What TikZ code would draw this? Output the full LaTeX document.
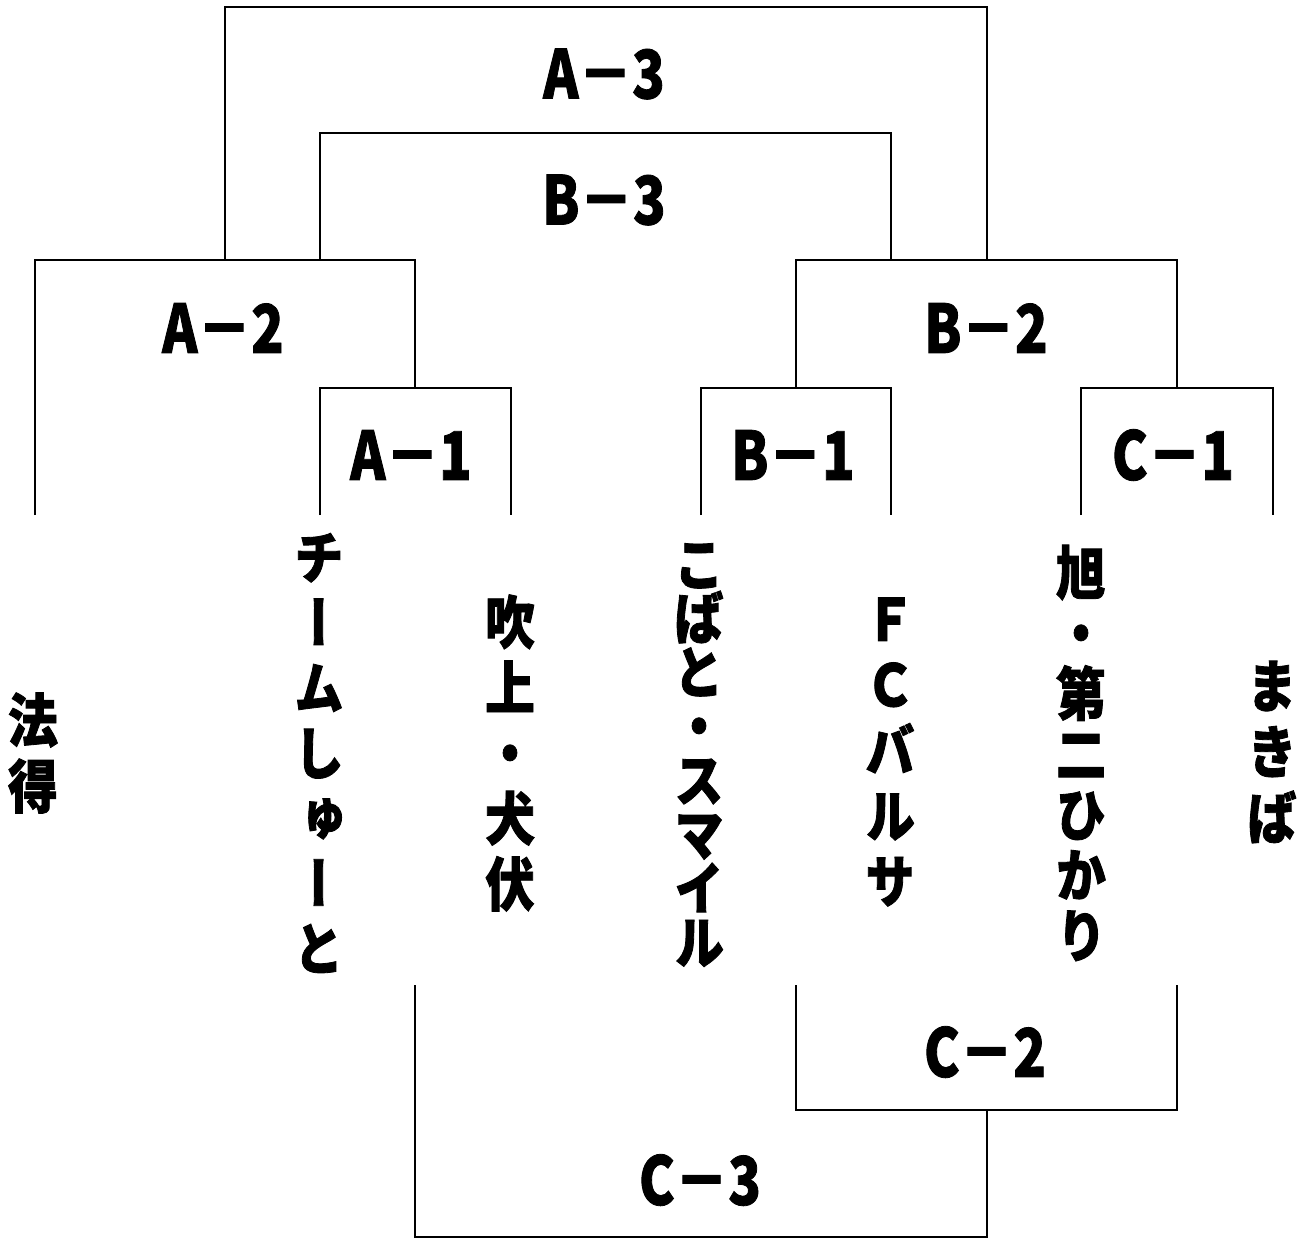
\documentclass[tikz,border=0pt]{standalone}
\usepackage{fontspec}
\usepackage{tikz}
\newfontfamily\jpfont{Noto Sans CJK JP}[FakeStretch=0.8,FakeBold=1.2]
\newfontfamily\jpvfont{Noto Sans CJK JP}[FakeStretch=0.86,FakeBold=1.4,RawFeature=+vert]

\begin{document}
\begin{tikzpicture}[x=1pt,y=-1pt]
		\tikzset{team/.style={align=center, inner sep=0pt, font={\jpvfont\bfseries\fontsize{58}{#1}\selectfont}}}
		\tikzset{match/.style={inner sep=0pt, font={\jpfont\bfseries\fontsize{67}{80}\selectfont}}}
		\tikzset{bracket/.style={line width=2.6pt}}
		\useasboundingbox (0,0) rectangle (1305,1239);
		%teams
		\node[team=66] (t1) at (33,753) {法\\得};
		\node[team=65.2] (t2) at (319,753) {チ\\ー\\ム\\し\\ゅ\\ー\\と};
		\node[team=65.5] (t3) at (510,753) {吹\\上\\・\\犬\\伏};
		\node[team=54] (t4) at (699,755) {こ\\ば\\と\\・\\ス\\マ\\イ\\ル};
		\node[team=65.5] (t5) at (890,752) {Ｆ\\Ｃ\\バ\\ル\\サ};
		\node[team=60.5] (t6) at (1081,753) {旭\\・\\第\\二\\ひ\\か\\り};
		\node[team=66] (t7) at (1272,752) {ま\\き\\ば};
		%matches
		\node[match] (a1) at (411,455) {A－1};
		\node[match] (b1) at (793,455) {B－1};
		\node[match] (c1) at (1173,455) {C－1};
		\node[match] (a2) at (223,328) {A－2};
		\node[match] (b2) at (986,328) {B－2};
		\node[match] (a3) at (604,74) {A－3};
		\node[match] (b3) at (604,200) {B－3};
		\node[match] (c2) at (985,1052) {C－2};
		\node[match] (c3) at (700,1180) {C－3};
		%leaf ends
		\coordinate (p1) at (35,515);
		\coordinate (p2) at (320,515);
		\coordinate (p3) at (511,515);
		\coordinate (p4) at (701,515);
		\coordinate (p5) at (891,515);
		\coordinate (p6) at (1081,515);
		\coordinate (p7) at (1273,515);
		\coordinate (r1) at (415,985);
		\coordinate (r2) at (796,985);
		\coordinate (r3) at (1177,985);
		%junctions
		\coordinate (ja1) at (415,388);
		\coordinate (jb1) at (796,388);
		\coordinate (jc1) at (1177,388);
		\coordinate (ja2) at (225,260);
		\coordinate (ja2b) at (320,260);
		\coordinate (jb2) at (891,260);
		\coordinate (jb2b) at (987,260);
		\coordinate (ja3) at (604,7);
		\coordinate (jb3) at (604,133);
		\coordinate (jc2) at (987,1110);
		\coordinate (jc3) at (700,1237);
		%brackets
		\draw[bracket] (p2) |- (ja1) -| (p3);
		\draw[bracket] (p4) |- (jb1) -| (p5);
		\draw[bracket] (p6) |- (jc1) -| (p7);
		\draw[bracket] (p1) |- (ja2) -| (ja1);
		\draw[bracket] (jb1) |- (jb2) -| (jc1);
		\draw[bracket] (ja2b) |- (jb3) -| (jb2);
		\draw[bracket] (ja2) |- (ja3) -| (jb2b);
		\draw[bracket] (r2) |- (jc2) -| (r3);
		\draw[bracket] (r1) |- (jc3) -| (jc2);
\end{tikzpicture}
\end{document}
